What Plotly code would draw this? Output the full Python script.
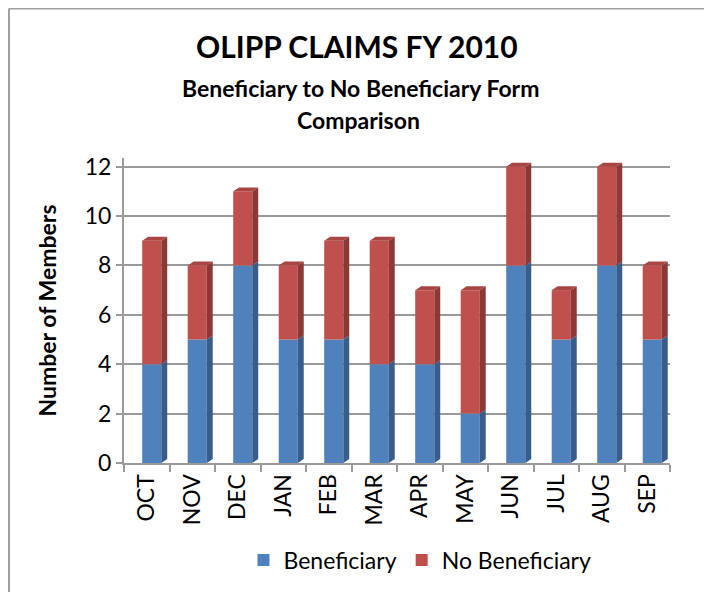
import plotly.graph_objects as go

months = ["OCT", "NOV", "DEC", "JAN", "FEB", "MAR", "APR", "MAY", "JUN", "JUL", "AUG", "SEP"]
beneficiary = [4, 5, 8, 5, 5, 4, 4, 2, 8, 5, 8, 5]
no_beneficiary = [5, 3, 3, 3, 4, 5, 3, 5, 4, 2, 4, 3]

FONT = "Lato"
BLUE, BLUE_SIDE = "#4F81BD", "#385D8A"
RED, RED_SIDE, RED_TOP = "#C0504D", "#8C3836", "#A94542"
GRID = "#9A9A9A"

xs = list(range(len(months)))
W = 0.42      # front face width (category units)
DX = 0.13     # depth offset x
DY = 0.16     # depth offset y (value units)
SHIFT = 0.11
YMAX = 12.35

fig = go.Figure()

fig.add_trace(go.Bar(x=[x + SHIFT for x in xs], y=beneficiary, base=[0]*len(xs), width=W,
                     marker=dict(color=BLUE, line=dict(width=0)), name="Beneficiary"))
fig.add_trace(go.Bar(x=[x + SHIFT for x in xs], y=no_beneficiary, base=beneficiary, width=W,
                     marker=dict(color=RED, line=dict(width=0)), name="No Beneficiary"))

def side_poly(bases, tops):
    px, py = [], []
    for x, b, t in zip(xs, bases, tops):
        r = x + SHIFT + W / 2
        px += [r, r + DX, r + DX, r, r, None]
        py += [b, b + DY, t + DY, t, b, None]
    return px, py

def top_poly(tops):
    px, py = [], []
    for x, t in zip(xs, tops):
        l = x + SHIFT - W / 2
        r = x + SHIFT + W / 2
        px += [l, r, r + DX, l + DX, l, None]
        py += [t, t, t + DY, t + DY, t, None]
    return px, py

totals = [b + n for b, n in zip(beneficiary, no_beneficiary)]
sx, sy = side_poly([0]*len(xs), beneficiary)
fig.add_trace(go.Scatter(x=sx, y=sy, fill="toself", fillcolor=BLUE_SIDE, mode="lines",
                         line=dict(width=0, color=BLUE_SIDE), showlegend=False, hoverinfo="skip"))
sx, sy = side_poly(beneficiary, totals)
fig.add_trace(go.Scatter(x=sx, y=sy, fill="toself", fillcolor=RED_SIDE, mode="lines",
                         line=dict(width=0, color=RED_SIDE), showlegend=False, hoverinfo="skip"))
tx, ty = top_poly(totals)
fig.add_trace(go.Scatter(x=tx, y=ty, fill="toself", fillcolor=RED_TOP, mode="lines",
                         line=dict(width=0, color=RED_TOP), showlegend=False, hoverinfo="skip"))

# page-pixel geometry (page has an 8px body margin)
OFF = 8
PL, PR, PB = 124, 670, 463
PT = PB - (PB - 167) * YMAX / 12
FW, FH = 712 - OFF, 592 - OFF

def px_x(p):
    return (p - PL) / (PR - PL)

def px_y(p):
    return (PB - p) / (PB - PT)

fig.update_layout(
    width=FW, height=FH,
    margin=dict(l=PL - OFF, r=FW - (PR - OFF), t=PT - OFF, b=FH - (PB - OFF), autoexpand=False),
    paper_bgcolor="white", plot_bgcolor="white",
    barmode="overlay",
    font=dict(family=FONT, color="black"),
    showlegend=True,
    legend=dict(orientation="h", x=px_x(420), xanchor="center", y=px_y(560), yanchor="middle",
                font=dict(size=23, family=FONT), traceorder="normal"),
    xaxis=dict(range=[-0.5, 11.5], tickmode="array", tickvals=xs, ticktext=months,
               tickangle=-90, tickfont=dict(size=23, family=FONT), showgrid=False,
               zeroline=False, showline=True, linecolor=GRID, linewidth=2, automargin=False,
               ticks="", minor=dict(tickvals=[x - 0.5 for x in xs] + [11.5], ticks="outside",
                                    ticklen=7, tickcolor=GRID, tickwidth=2, showgrid=False)),
    yaxis=dict(range=[0, YMAX], tickmode="array", tickvals=[0, 2, 4, 6, 8, 10, 12],
               tickfont=dict(size=23, family=FONT), automargin=False,
               showgrid=True, gridcolor=GRID, gridwidth=2, zeroline=False,
               showline=True, linecolor=GRID, linewidth=2, ticks="outside",
               ticklen=6, tickcolor=GRID, tickwidth=2,
               title=dict(text="<b>Number of Members</b>", font=dict(size=23, family=FONT),
                          standoff=22)),
    annotations=[
        dict(text="<b>OLIPP CLAIMS FY 2010</b>", xref="paper", yref="paper",
             x=px_x(357), y=px_y(47), showarrow=False, font=dict(size=30, family=FONT),
             xanchor="center", yanchor="middle"),
        dict(text="<b>Beneficiary to No Beneficiary Form</b>", xref="paper", yref="paper",
             x=px_x(360), y=px_y(88), showarrow=False, font=dict(size=23, family=FONT),
             xanchor="center", yanchor="middle"),
        dict(text="<b>Comparison</b>", xref="paper", yref="paper",
             x=px_x(358), y=px_y(120), showarrow=False, font=dict(size=23, family=FONT),
             xanchor="center", yanchor="middle"),
    ],
    shapes=[
        dict(type="line", xref="paper", yref="paper", x0=px_x(OFF + 1), x1=px_x(OFF + 1),
             y0=px_y(OFF + 1), y1=px_y(592), line=dict(color="#A0A0A0", width=2)),
        dict(type="line", xref="paper", yref="paper", x0=px_x(OFF + 1), x1=px_x(712),
             y0=px_y(OFF + 1), y1=px_y(OFF + 1), line=dict(color="#A0A0A0", width=2)),
    ],
)

fig.write_html("out.html")
